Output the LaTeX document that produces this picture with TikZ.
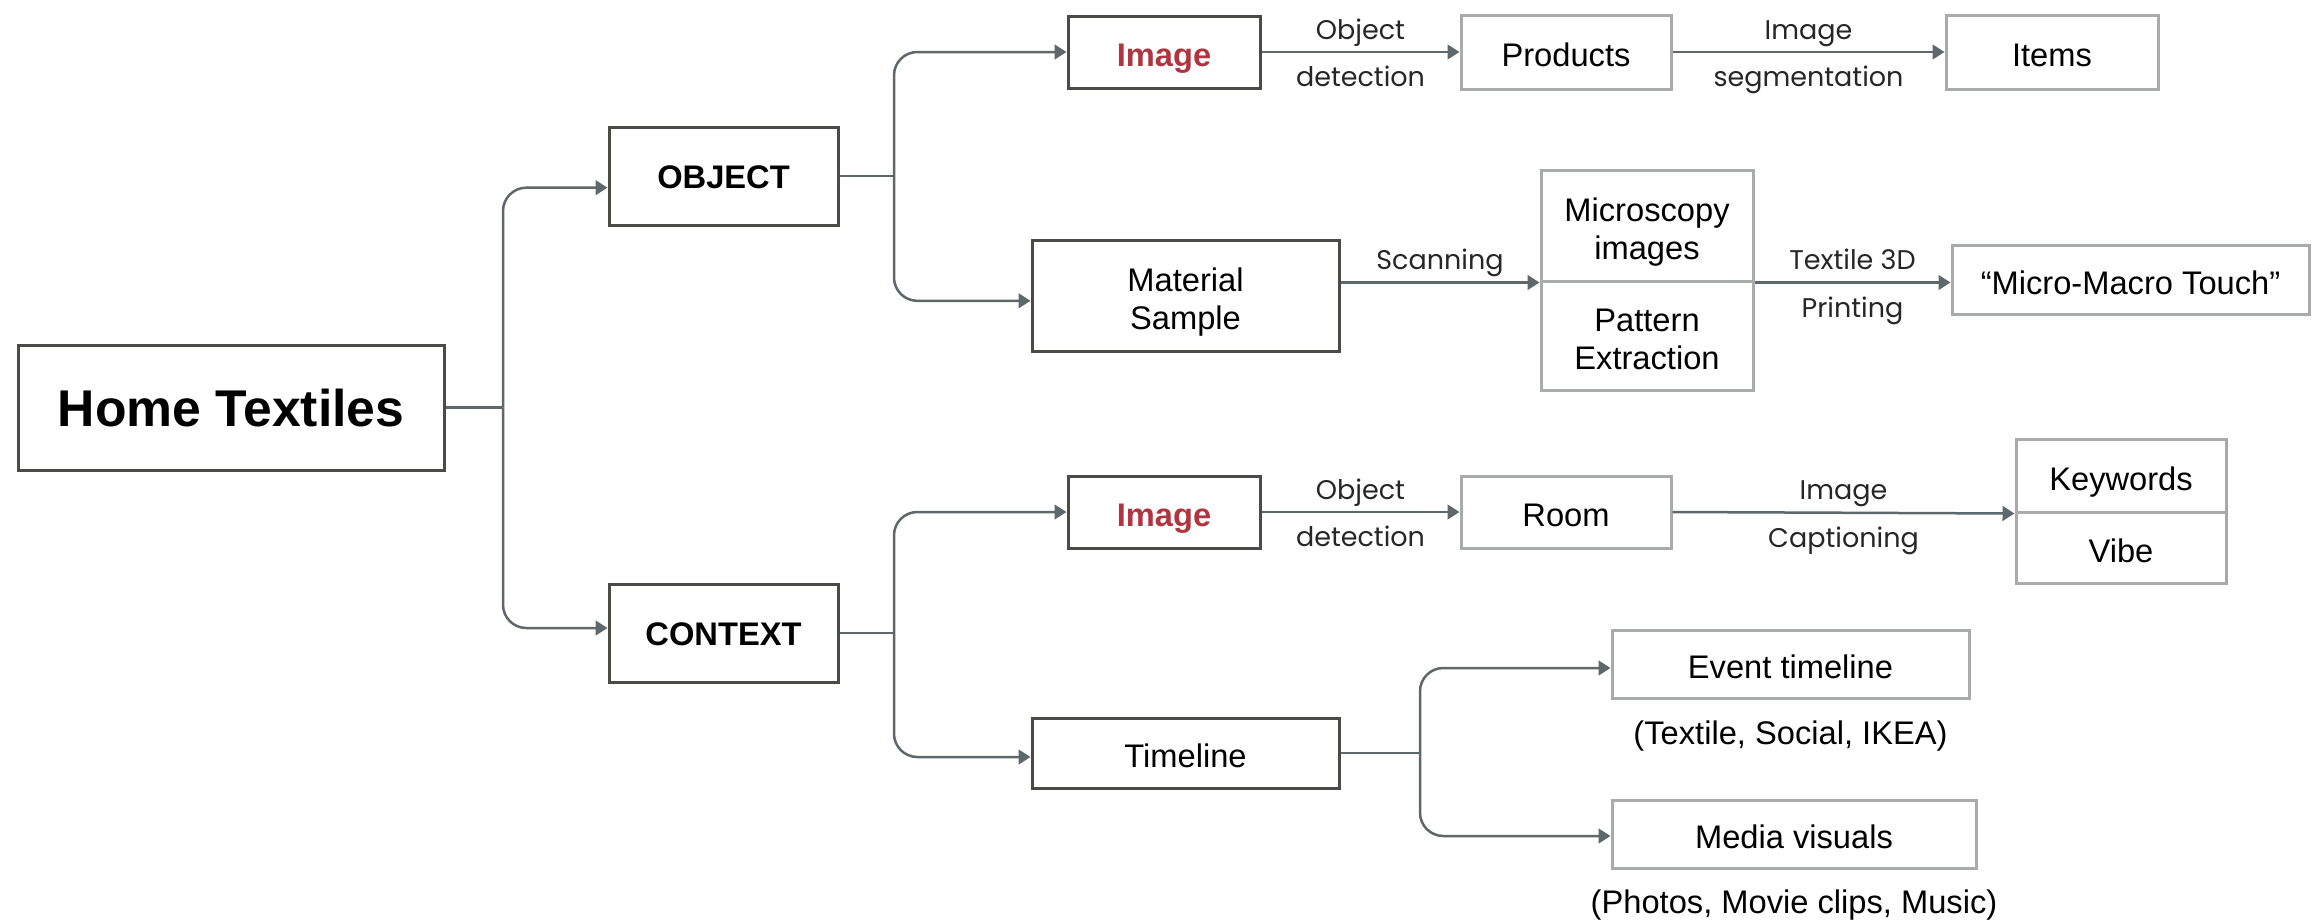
\documentclass[tikz,border=0pt]{standalone}
\usepackage{fontspec}
\setmainfont{Liberation Sans}
\newfontfamily\labfont{Poppins}
\usetikzlibrary{arrows.meta,calc}
\definecolor{boxdark}{HTML}{4A4A46}
\definecolor{boxgrey}{HTML}{A9ABAB}
\definecolor{linec}{HTML}{5E686B}
\definecolor{imgred}{HTML}{B0353F}
\begin{document}
\begin{tikzpicture}[x=0.3pt,y=-0.3pt,
  nodetext/.style={font=\fontsize{9.8}{11.4}\selectfont, text=black, align=center, text height=8.8pt, text depth=0pt},
  dbox/.style={draw=boxdark, line width=0.9pt, fill=white, inner sep=0pt, nodetext},
  gbox/.style={draw=boxgrey, line width=0.9pt, fill=white, inner sep=0pt, nodetext},
  twoline/.style={text height=20.2pt, text depth=0pt},
  sz/.style 2 args={minimum width=#1*0.3pt, minimum height=#2*0.3pt},
  conn/.style={draw=linec, line width=0.75pt, rounded corners=7pt},
  arr/.style={conn, -{Triangle[length=3.6pt,width=4.4pt]}},
  lab/.style={font=\labfont\fontsize{8.1}{9}\selectfont, text=black!85, inner sep=0pt, anchor=base},
  labup/.style={lab, yshift=3.9pt},
  labdown/.style={lab, yshift=-10.4pt},
  sub/.style={nodetext, inner sep=0pt, anchor=north, text height=7pt, text depth=2pt},
  boldtext/.style={font=\bfseries\fontsize{9.8}{11.4}\selectfont, text height=7.3pt},
  redtext/.style={font=\bfseries\fontsize{9.8}{11.4}\selectfont, text=imgred},
]
\useasboundingbox (0,0) rectangle (2319,922);

% nodes
\node[dbox, sz={426}{125}, font=\bfseries\fontsize{15.5}{18}\selectfont, text height=11.2pt] (home) at (231,407.5) {Home Textiles};
\node[dbox, sz={229}{98}, boldtext] (obj) at (723.5,176) {OBJECT};
\node[dbox, sz={229}{98}, boldtext] (ctx) at (723.5,633) {CONTEXT};

\node[dbox, sz={192}{72}, redtext] (img1) at (1164,52) {Image};
\node[dbox, sz={307}{111}, twoline] (mat) at (1185.5,295.5) {Material\\Sample};
\node[gbox, sz={210}{74}] (prod) at (1566,52) {Products};
\node[gbox, sz={212}{74}] (items) at (2052,52) {Items};
\node[gbox, sz={212}{111}, twoline] (micro) at (1647,225.5) {Microscopy\\images};
\node[gbox, sz={212}{109}, twoline] (pattern) at (1647,335.5) {Pattern\\Extraction};
\node[gbox, sz={357}{69}] (touch) at (2130.5,279.5) {``Micro-Macro Touch''};

\node[dbox, sz={192}{72}, redtext] (img2) at (1164,512) {Image};
\node[gbox, sz={210}{72}] (room) at (1566,512) {Room};
\node[gbox, sz={210}{73}] (kw) at (2121,475.5) {Keywords};
\node[gbox, sz={210}{71}] (vibe) at (2121,547.5) {Vibe};

\node[dbox, sz={307}{70}] (tl) at (1185.5,753) {Timeline};
\node[gbox, sz={357}{68}] (event) at (1790.5,664) {Event timeline};
\node[gbox, sz={364}{68}] (media) at (1794,834) {Media visuals};
\node[sub] (evsub) at ([yshift=-6.2pt]event.south) {(Textile, Social, IKEA)};
\node[sub] (mesub) at ([yshift=-6pt]media.south) {(Photos, Movie clips, Music)};

% level 1
\coordinate (j1) at (503,407.5);
\draw[conn] (home.east) -- (j1);
\draw[arr] (j1) |- ([yshift=-3.5pt]obj.west);
\draw[arr] (j1) |- ([yshift=1.5pt]ctx.west);

% level 2
\coordinate (j2) at (894,176);
\draw[conn] (obj.east) -- (j2);
\draw[arr] (j2) |- (img1.west);
\draw[arr] (j2) |- ([yshift=-1.6pt]mat.west);
\coordinate (j3) at (894,633);
\draw[conn] (ctx.east) -- (j3);
\draw[arr] (j3) |- (img2.west);
\draw[arr] (j3) |- ([yshift=-1.2pt]tl.west);

% object chains
\draw[arr] (img1.east) -- node[labup]{Object} node[labdown]{detection} (prod.west);
\draw[arr] (prod.east) -- node[labup]{Image} node[labdown]{segmentation} (items.west);
\draw[arr] (mat.east |- micro.south) -- node[labup]{Scanning} (micro.south west);
\draw[arr] (micro.south east) -- node[labup]{Textile 3D} node[labdown]{Printing} (touch.west |- micro.south east);

% context chains
\draw[arr] (img2.east) -- node[labup]{Object} node[labdown]{detection} (room.west);
\draw[arr] (room.east) -- node[labup]{Image} node[labdown]{Captioning} (kw.south west);

% timeline
\coordinate (j4) at (1420,753);
\draw[conn] (tl.east) -- (j4);
\draw[arr] (j4) |- ([yshift=-1.2pt]event.west);
\draw[arr] (j4) |- ([yshift=-0.6pt]media.west);
\end{tikzpicture}
\end{document}
